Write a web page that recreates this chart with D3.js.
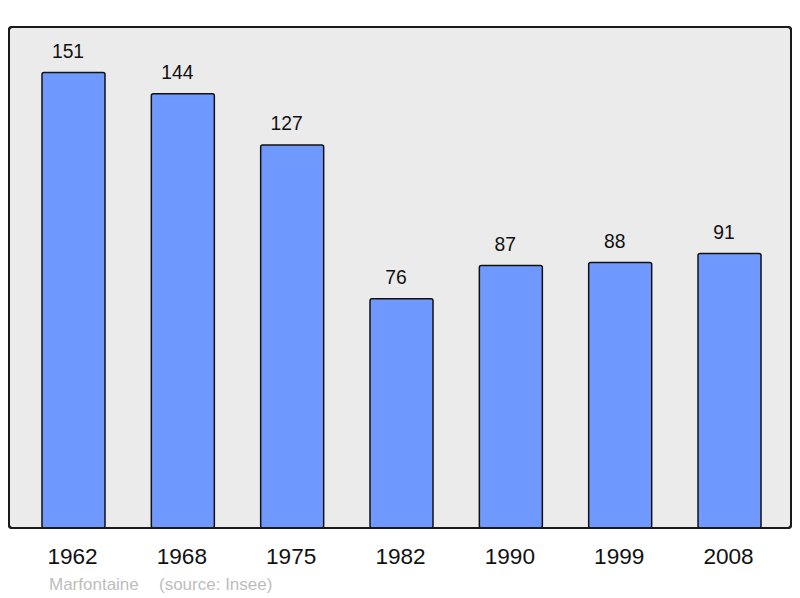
<!DOCTYPE html>
<html><head><meta charset="utf-8">
<script src="https://cdn.jsdelivr.net/npm/d3@7"></script>
<style>body{margin:0;background:#fff}svg{display:block;font-family:"Liberation Sans",Arial,sans-serif}</style>
</head><body>
<script>
const years = ["1962","1968","1975","1982","1990","1999","2008"];
const population = [151,144,127,76,87,88,91];
const town = "Marfontaine";
const source = "(source: Insee)";

const W = 800, H = 598;
const panel = {x0: 9, y0: 27, x1: 791, y1: 528};
const svg = d3.select("body").append("svg").attr("width", W).attr("height", H);

svg.append("rect").attr("x", panel.x0).attr("y", panel.y0)
  .attr("width", panel.x1 - panel.x0).attr("height", panel.y1 - panel.y0)
  .attr("rx", 3).attr("fill", "#ebebeb").attr("stroke", "#1a1a1a").attr("stroke-width", 2);

const x = d3.scaleBand().domain(years).range([panel.x0, panel.x1])
  .paddingInner(0.4238).paddingOuter(0.288).align(0.524);
const y = d3.scaleLinear().domain([0, d3.max(population) * 1.1]).range([panel.y1, panel.y0]);

const data = years.map((yr, i) => ({yr, v: population[i]}));

svg.selectAll("rect.bar").data(data).join("rect").attr("class", "bar")
  .attr("x", d => x(d.yr)).attr("y", d => y(d.v))
  .attr("width", x.bandwidth()).attr("height", d => y(0) - y(d.v))
  .attr("rx", 2).attr("fill", "#7099ff").attr("stroke", "#111").attr("stroke-width", 1.5);

svg.selectAll("text.val").data(data).join("text").attr("class", "val")
  .attr("x", d => x(d.yr) + x.bandwidth() / 2 - 5.5).attr("y", d => y(d.v) - 14.5)
  .attr("text-anchor", "middle").attr("font-size", 19.3).attr("fill", "#111")
  .text(d => d.v);

// redraw panel border on top
svg.append("rect").attr("x", panel.x0).attr("y", panel.y0)
  .attr("width", panel.x1 - panel.x0).attr("height", panel.y1 - panel.y0)
  .attr("rx", 3).attr("fill", "none").attr("stroke", "#1a1a1a").attr("stroke-width", 2);

const xAxis = d3.axisBottom(x).tickSize(0).tickPadding(0);
const gx = svg.append("g").attr("transform", `translate(0,${panel.y1})`).call(xAxis);
gx.select(".domain").remove();
gx.selectAll("text").attr("font-size", 22.6).attr("fill", "#111")
  .attr("font-family", "'Liberation Sans',Arial,sans-serif")
  .attr("dy", null).attr("y", 35.5).attr("dx", -1);

svg.append("text").attr("x", 49).attr("y", 590).attr("font-size", 17).attr("fill", "#bdbdbd").text(town);
svg.append("text").attr("x", 159).attr("y", 590).attr("font-size", 17).attr("fill", "#bdbdbd").text(source);
</script>
</body></html>
